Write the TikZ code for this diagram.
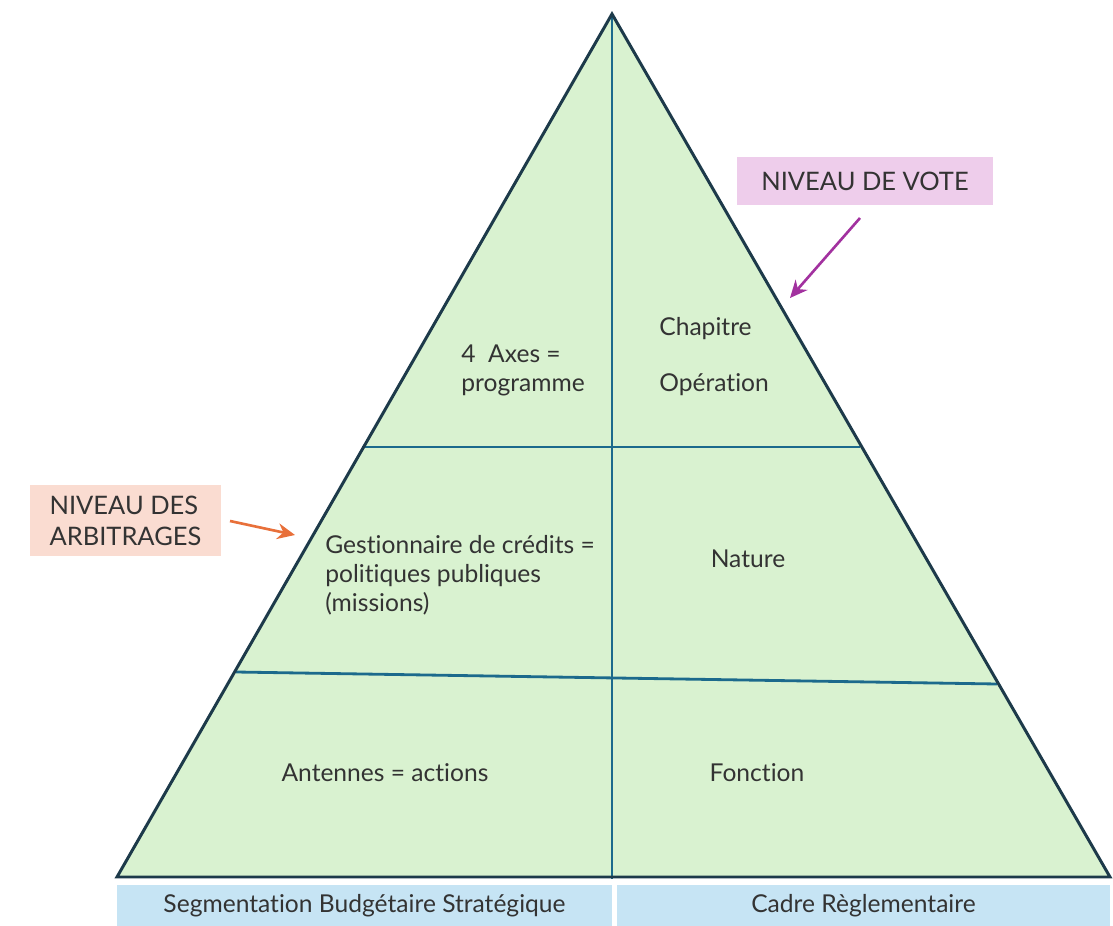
\documentclass[tikz,border=0pt]{standalone}
\usepackage{fontspec}
\setmainfont{Lato}[Ligatures=NoCommon]
\usetikzlibrary{arrows.meta}
\definecolor{pyrgreen}{HTML}{D9F2D0}
\definecolor{edgedark}{HTML}{1D3A4A}
\definecolor{lineteal}{HTML}{1C6A8C}
\definecolor{votepink}{HTML}{EECDEB}
\definecolor{votepurple}{HTML}{A2319F}
\definecolor{arbsalmon}{HTML}{FADCD1}
\definecolor{arborange}{HTML}{E8703A}
\definecolor{barblue}{HTML}{C6E4F4}
\definecolor{textgrey}{HTML}{333333}
\begin{document}
\begin{tikzpicture}[x=0.02cm,y=-0.02cm,
  outer/.style={draw=edgedark, line width=1.7pt, line join=miter},
  inner/.style={draw=lineteal, line width=1.6pt},
  lbl/.style={font=\fontsize{14}{16.5}\selectfont, text=textgrey, inner sep=0pt},
  tag/.style={font=\fontsize{14.5}{17.5}\selectfont, text=textgrey},
  bar/.style={fill=barblue, minimum height=0.82cm, inner sep=0pt,
    font=\fontsize{14}{16}\selectfont, text=textgrey}]
\useasboundingbox (0,0) rectangle (1113,926);
% pyramid
\coordinate (apex) at (612,14);
\coordinate (bl) at (117,877);
\coordinate (br) at (1110,877);
\coordinate (bm) at (612,879);
\coordinate (l1) at (362,447);
\coordinate (r1) at (860,447);
\coordinate (l2) at (236,672);
\coordinate (r2) at (997,684);
\fill[pyrgreen] (apex) -- (bl) -- (br) -- cycle;
\draw[inner] (l1) -- (r1);
\draw[inner] (l2) -- (r2);
\draw[inner] (apex) -- (bm);
\draw[outer] (apex) -- (bl) -- (br) -- cycle;
% cells
\node[lbl, anchor=west, align=left] (axes) at (461,370) {4\ \ Axes =\\programme};
\node[lbl, anchor=west] (chapitre) at (659,329) {Chapitre};
\node[lbl, anchor=west] (operation) at (659,385) {Opération};
\node[lbl, anchor=west, align=left] (gestion) at (325,575) {Gestionnaire de crédits =\\politiques publiques\\(missions)};
\node[lbl] (nature) at (748,559) {Nature};
\node[lbl] (antennes) at (385,773) {Antennes = actions};
\node[lbl] (fonction) at (757,773) {Fonction};
% bottom bars
\node[bar, minimum width=9.9cm] (segment) at (364.5,905.5) {\raisebox{-3pt}{Segmentation Budgétaire Stratégique}};
\node[bar, minimum width=9.86cm] (cadre) at (863.5,905.5) {\raisebox{-3pt}{Cadre Règlementaire}};
% levels
\node[tag, fill=votepink, minimum width=5.12cm, minimum height=0.96cm] (vote) at (865,181) {NIVEAU DE VOTE};
\node[tag, fill=arbsalmon, minimum width=3.82cm, minimum height=1.42cm, align=left] (arbitrages) at (125.5,520.5) {NIVEAU DES\\ARBITRAGES};
\coordinate (votetail) at (860,218);
\coordinate (votetip) at (790,298);
\coordinate (arbtail) at (230,521);
\coordinate (arbtip) at (295,535);
\draw[votepurple, line width=1.5pt, -{Stealth[length=10pt,width=9pt]}] (votetail) -- (votetip);
\draw[arborange, line width=1.5pt, -{Stealth[length=10pt,width=9pt]}] (arbtail) -- (arbtip);
\end{tikzpicture}
\end{document}
